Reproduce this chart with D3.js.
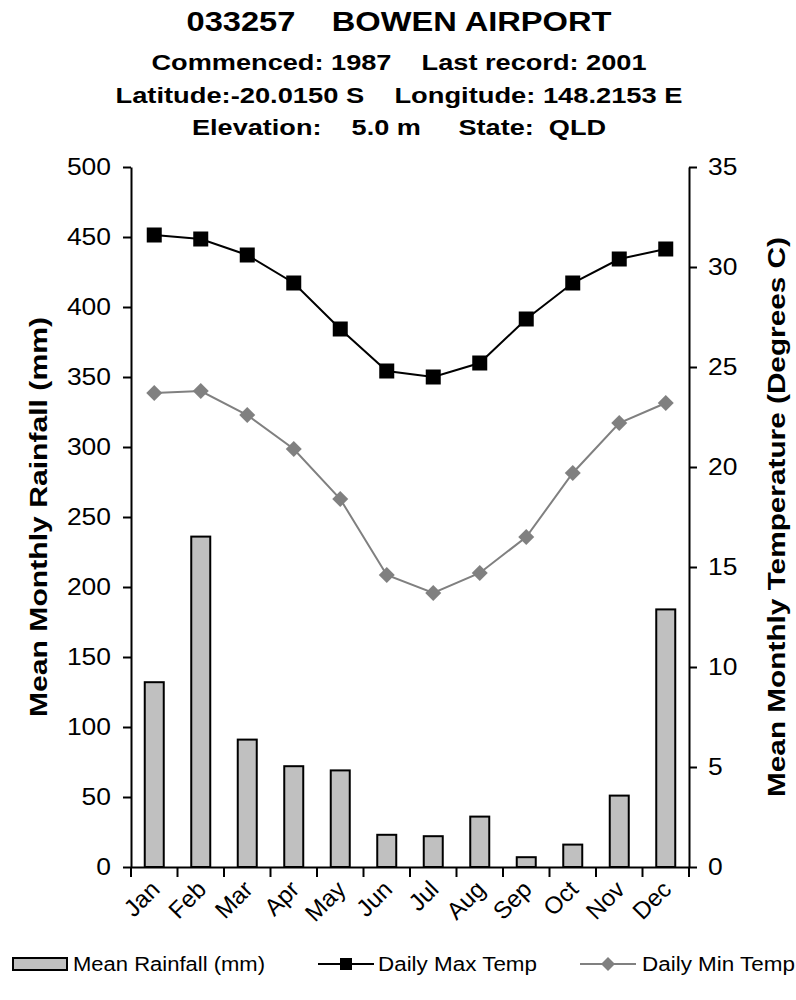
<!DOCTYPE html>
<html><head><meta charset="utf-8">
<script src="https://cdn.jsdelivr.net/npm/d3@7"></script>
<style>body{margin:0;background:#fff}svg{display:block}text{font-family:"Liberation Sans",Arial,sans-serif}</style>
</head><body>
<script>
const months = ["Jan","Feb","Mar","Apr","May","Jun","Jul","Aug","Sep","Oct","Nov","Dec"];
const rainfall = [132, 236, 91, 72, 69, 23, 22, 36, 7, 16, 51, 184];
const maxTemp = [31.6, 31.4, 30.6, 29.2, 26.9, 24.8, 24.5, 25.2, 27.4, 29.2, 30.4, 30.9];
const minTemp = [23.7, 23.8, 22.6, 20.9, 18.4, 14.6, 13.7, 14.7, 16.5, 19.7, 22.2, 23.2];
const rainTicks = [0,50,100,150,200,250,300,350,400,450,500];
const tempTicks = [0,5,10,15,20,25,30,35];
const titleLines = ["033257    BOWEN AIRPORT","Commenced: 1987    Last record: 2001","Latitude:-20.0150 S    Longitude: 148.2153 E","Elevation:    5.0 m     State:  QLD"];
const legendLabels = ["Mean Rainfall (mm)","Daily Max Temp","Daily Min Temp"];

const W=796,H=1000;
const svg=d3.select("body").append("svg").attr("width",W).attr("height",H);
const L=131,R=689,T=167,B=867;
const x=d3.scaleBand().domain(months).range([L,R]).paddingInner(0).paddingOuter(0);
const yR=d3.scaleLinear().domain([0,500]).range([B,T]);
const yT=d3.scaleLinear().domain([0,35]).range([B,T]);

// titles
const tl=[{y:31,fs:27,w:425},{y:70,fs:22,w:495},{y:103,fs:22,w:567},{y:135,fs:22,w:414}];
titleLines.forEach((t,i)=>{
  svg.append("text").attr("x",399).attr("y",tl[i].y).attr("text-anchor","middle")
    .attr("font-size",tl[i].fs).attr("font-weight","bold").style("white-space","pre")
    .attr("textLength",tl[i].w).attr("lengthAdjust","spacingAndGlyphs").text(t);
});

// bars
const bw=19;
svg.append("g").selectAll("rect").data(rainfall).join("rect")
  .attr("x",(d,i)=>x(months[i])+x.bandwidth()/2-bw/2)
  .attr("y",d=>yR(d)).attr("width",bw).attr("height",d=>B-yR(d))
  .attr("fill","#c0c0c0").attr("stroke","#000").attr("stroke-width",2);

// axes
const axL=svg.append("g").attr("transform",`translate(${L},0)`)
  .call(d3.axisLeft(yR).tickValues(rainTicks).tickSize(8).tickSizeOuter(0).tickPadding(12));
const axR=svg.append("g").attr("transform",`translate(${R},0)`)
  .call(d3.axisRight(yT).tickValues(tempTicks).tickSize(8).tickSizeOuter(0).tickPadding(11));
const axB=svg.append("g").attr("transform",`translate(0,${B})`)
  .call(d3.axisBottom(x).tickValues([]).tickSizeOuter(0));
[axL,axR,axB].forEach(a=>{a.select(".domain").attr("stroke","#000").attr("stroke-width",2);
  a.selectAll(".tick line").attr("stroke","#000").attr("stroke-width",2);
  a.selectAll("text").attr("font-size",23).attr("font-family","Liberation Sans, Arial, sans-serif").attr("fill","#000");});
axL.selectAll(".tick text").each(function(d){d3.select(this).attr("textLength",String(d).length*14.7).attr("lengthAdjust","spacingAndGlyphs");});
axR.selectAll(".tick text").each(function(d){d3.select(this).attr("textLength",String(d).length*14.7).attr("lengthAdjust","spacingAndGlyphs");});
// x category ticks at band boundaries
const bounds=months.map(m=>x(m)).concat([R]);
svg.append("g").selectAll("line").data(bounds).join("line")
  .attr("x1",d=>d).attr("x2",d=>d).attr("y1",B).attr("y2",B+10)
  .attr("stroke","#000").attr("stroke-width",2);
// x labels
svg.append("g").selectAll("text").data(months).join("text")
  .attr("transform",d=>`translate(${x(d)+x.bandwidth()/2-5},${B+12}) rotate(-45)`)
  .attr("text-anchor","end").attr("dy","0.7em").attr("font-size",24).text(d=>d);

// axis titles
svg.append("text").attr("transform",`translate(47,${(T+B)/2}) rotate(-90)`).attr("text-anchor","middle")
  .attr("font-size",23).attr("font-weight","bold").attr("textLength",400).attr("lengthAdjust","spacingAndGlyphs")
  .text("Mean Monthly Rainfall (mm)");
svg.append("text").attr("transform",`translate(785,${(T+B)/2}) rotate(-90)`).attr("text-anchor","middle")
  .attr("font-size",23).attr("font-weight","bold").attr("textLength",560).attr("lengthAdjust","spacingAndGlyphs")
  .text("Mean Monthly Temperature (Degrees C)");

// lines
const cx=(d,i)=>x(months[i])+x.bandwidth()/2;
const lineMax=d3.line().x(cx).y(d=>yT(d));
svg.append("path").attr("d",lineMax(maxTemp)).attr("fill","none").attr("stroke","#000").attr("stroke-width",2);
svg.append("path").attr("d",lineMax(minTemp)).attr("fill","none").attr("stroke","#808080").attr("stroke-width",2);
const sq=15;
svg.append("g").selectAll("rect").data(maxTemp).join("rect")
  .attr("x",(d,i)=>cx(d,i)-sq/2).attr("y",d=>yT(d)-sq/2).attr("width",sq).attr("height",sq).attr("fill","#000");
const dm=8;
svg.append("g").selectAll("path").data(minTemp).join("path")
  .attr("d",(d,i)=>{const X=cx(d,i),Y=yT(d);return `M${X},${Y-dm}L${X+dm},${Y}L${X},${Y+dm}L${X-dm},${Y}Z`;})
  .attr("fill","#808080");

// legend
const ly=964;
const lg=svg.append("g");
lg.append("rect").attr("x",13).attr("y",ly-6).attr("width",54).attr("height",12).attr("fill","#c0c0c0").attr("stroke","#000").attr("stroke-width",2);
lg.append("text").attr("x",73).attr("y",ly+7).attr("font-size",20).attr("textLength",192).attr("lengthAdjust","spacingAndGlyphs").text(legendLabels[0]);
lg.append("line").attr("x1",318).attr("x2",374).attr("y1",ly).attr("y2",ly).attr("stroke","#000").attr("stroke-width",2);
lg.append("rect").attr("x",346-6).attr("y",ly-6).attr("width",12).attr("height",12).attr("fill","#000");
lg.append("text").attr("x",378).attr("y",ly+7).attr("font-size",20).attr("textLength",159).attr("lengthAdjust","spacingAndGlyphs").text(legendLabels[1]);
lg.append("line").attr("x1",580).attr("x2",636).attr("y1",ly).attr("y2",ly).attr("stroke","#808080").attr("stroke-width",2);
lg.append("path").attr("d",`M608,${ly-7}L615,${ly}L608,${ly+7}L601,${ly}Z`).attr("fill","#808080");
lg.append("text").attr("x",642).attr("y",ly+7).attr("font-size",20).attr("textLength",153).attr("lengthAdjust","spacingAndGlyphs").text(legendLabels[2]);
</script>
</body></html>
